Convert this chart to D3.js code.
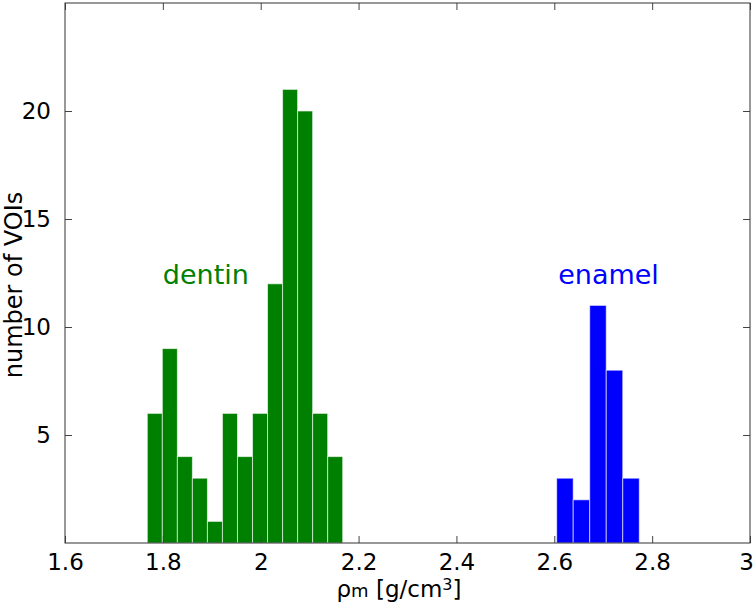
<!DOCTYPE html>
<html><head><meta charset="utf-8">
<script src="https://cdn.jsdelivr.net/npm/d3@7"></script>
<style>body{margin:0;background:#fff}svg{display:block}text{font-family:"DejaVu Sans",sans-serif}</style>
</head><body><svg id="c" width="754" height="607"></svg>
<script>
// Data
const dentinStart = 1.7682, dentinBin = 0.03072;
const dentinCounts = [6, 9, 4, 3, 1, 6, 4, 6, 12, 21, 20, 6, 4];
const enamelStart = 2.6049, enamelBin = 0.03376;
const enamelCounts = [3, 2, 11, 8, 3];
const xTicks = [1.6, 1.8, 2.0, 2.2, 2.4, 2.6, 2.8, 3.0];
const xTickLabels = ["1.6", "1.8", "2", "2.2", "2.4", "2.6", "2.8", "3"];
const yTicks = [5, 10, 15, 20];
const labels = [{text: "dentin", x: 1.8, y: 12, color: "#008000"},
                {text: "enamel", x: 2.608, y: 12, color: "#0000ff"}];

const L = 65, R = 750, T = 3, B = 543;
const svg = d3.select("#c");
const x = d3.scaleLinear().domain([1.6, 3.0]).range([L, R]);
const y = d3.scaleLinear().domain([0, 25]).range([B, T]);

function bars(start, bin, counts, color) {
  const d = counts.map((c, i) => ({x0: start + i * bin, x1: start + (i + 1) * bin, c}));
  svg.append("g").selectAll("rect").data(d).join("rect")
    .attr("x", e => x(e.x0)).attr("width", e => x(e.x1) - x(e.x0))
    .attr("y", e => y(e.c)).attr("height", e => y(0) - y(e.c))
    .attr("fill", color).attr("stroke", "#ffffff").attr("stroke-opacity", 0.6).attr("stroke-width", 1);
}
bars(dentinStart, dentinBin, dentinCounts, "#008000");
bars(enamelStart, enamelBin, enamelCounts, "#0000ff");

// axes with inside ticks
const tl = 7;
const axB = d3.axisBottom(x).tickValues(xTicks).tickSize(-tl).tickPadding(11)
  .tickFormat((d, i) => xTickLabels[i]);
const gB = svg.append("g").attr("transform", `translate(0,${B})`).call(axB);
const axT = d3.axisTop(x).tickValues(xTicks).tickSize(-tl).tickFormat("");
const gT = svg.append("g").attr("transform", `translate(0,${T})`).call(axT);
const axL = d3.axisLeft(y).tickValues(yTicks).tickSize(-tl).tickPadding(14);
const gL = svg.append("g").attr("transform", `translate(${L},0)`).call(axL);
const axR = d3.axisRight(y).tickValues(yTicks).tickSize(-tl).tickFormat("");
const gR = svg.append("g").attr("transform", `translate(${R},0)`).call(axR);
[gB, gT, gL, gR].forEach(g => {
  g.select(".domain").remove();
  g.selectAll(".tick line").attr("stroke", "#444").attr("stroke-width", 1);
  g.selectAll("text").attr("font-size", 23).attr("fill", "#000").attr("font-family", "DejaVu Sans");
});
gB.selectAll(".tick text").attr("dy", "0.71em");
gB.selectAll(".tick").filter(d => d === 3.0).select("text").attr("x", -4);

svg.append("rect").attr("x", L).attr("y", T).attr("width", R - L).attr("height", B - T)
  .attr("fill", "none").attr("stroke", "#333").attr("stroke-width", 1);

// annotations
svg.append("g").selectAll("text").data(labels).join("text")
  .attr("x", d => x(d.x)).attr("y", d => y(d.y))
  .attr("fill", d => d.color).attr("font-size", 27).text(d => d.text);

// axis labels
const xl = svg.append("text").attr("x", 399).attr("y", 597).attr("text-anchor", "middle")
  .attr("font-size", 23).attr("fill", "#000");
xl.append("tspan").text("ρ");
xl.append("tspan").attr("font-size", 18).text("m");
xl.append("tspan").text(" [g/cm");
xl.append("tspan").attr("font-size", 16).attr("dy", -7).text("3");
xl.append("tspan").attr("dy", 7).text("]");

svg.append("text").attr("transform", `translate(22,285) rotate(-90)`)
  .attr("text-anchor", "middle").attr("font-size", 24).attr("fill", "#000").text("number of VOIs");
</script></body></html>
